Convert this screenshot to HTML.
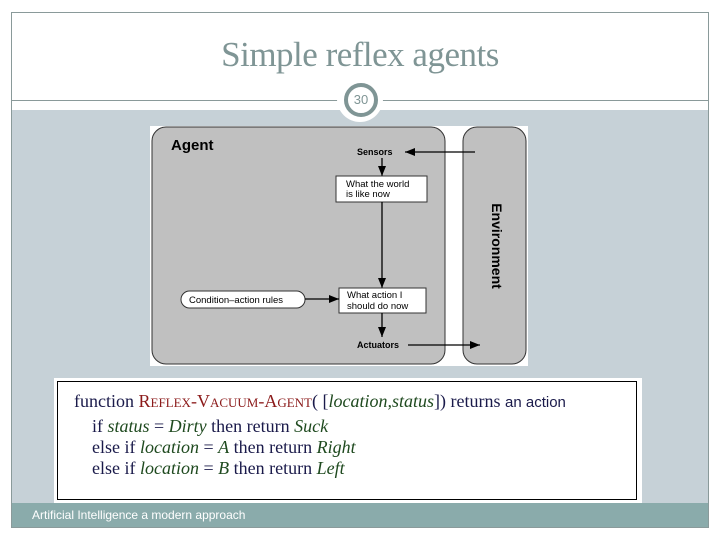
<!DOCTYPE html>
<html><head><style>
body{margin:0;width:720px;height:540px;background:#fff;position:relative;overflow:hidden;font-family:"Liberation Sans",sans-serif}
.a{position:absolute}
</style></head><body>
<div class="a" style="left:11px;top:12px;width:696px;height:514px;border:1px solid #8a9a9a"></div>
<div class="a" style="left:0;width:720px;top:35px;text-align:center;font-family:'Liberation Serif',serif;font-size:35px;color:#7f9595;letter-spacing:-0.5px">Simple reflex agents</div>
<div class="a" style="left:12px;top:100px;width:696px;height:1px;background:#8a9a9a"></div>
<div class="a" style="left:12px;top:110px;width:696px;height:393px;background:#c6d1d7"></div>
<div class="a" style="left:12px;top:503px;width:696px;height:24px;background:#8aabab"></div>
<div class="a" style="left:32px;top:508px;font-size:12px;color:#fff">Artificial Intelligence a modern approach</div>
<div class="a" style="left:337px;top:76px;width:46px;height:46px;border-radius:50%;background:#fff"></div>
<div class="a" style="left:344px;top:83px;width:26px;height:26px;border-radius:50%;border:4px solid #7f9595;background:#fff;text-align:center;line-height:26px;font-size:13px;color:#7f9595">30</div>

<svg class="a" style="left:150px;top:126px" width="378" height="240" viewBox="150 126 378 240">
<defs><marker id="m" markerWidth="10" markerHeight="8" refX="10" refY="4" orient="auto" markerUnits="userSpaceOnUse"><path d="M0,0L10,4L0,8z" fill="#000"/></marker></defs>
<rect x="150" y="126" width="378" height="240" fill="#fff"/>
<rect x="152" y="127" width="293" height="237" rx="14" fill="#c0c0c0" stroke="#333"/>
<rect x="463" y="127" width="63" height="237" rx="14" fill="#c0c0c0" stroke="#333"/>
<text x="171" y="150" font-size="15" font-weight="bold" font-family="Liberation Sans">Agent</text>
<text x="357" y="155" font-size="9" font-weight="bold" font-family="Liberation Sans">Sensors</text>
<line x1="475" y1="152" x2="405" y2="152" stroke="#000" stroke-width="1.3" marker-end="url(#m)"/>
<line x1="382" y1="158" x2="382" y2="176" stroke="#000" stroke-width="1.3" marker-end="url(#m)"/>
<rect x="336" y="176" width="91" height="26" fill="#fff" stroke="#333"/>
<text x="346" y="187" font-size="9.5" font-family="Liberation Sans">What the world</text>
<text x="346" y="197" font-size="9.5" font-family="Liberation Sans">is like now</text>
<line x1="382" y1="202" x2="382" y2="288" stroke="#000" stroke-width="1.3" marker-end="url(#m)"/>
<rect x="339" y="288" width="87" height="25" fill="#fff" stroke="#333"/>
<text x="347" y="298" font-size="9.5" font-family="Liberation Sans">What action I</text>
<text x="347" y="309" font-size="9.5" font-family="Liberation Sans">should do now</text>
<rect x="181" y="291" width="124" height="17" rx="8.5" fill="#fff" stroke="#333"/>
<text x="189" y="303" font-size="9.5" font-family="Liberation Sans">Condition–action rules</text>
<line x1="305" y1="299" x2="339" y2="299" stroke="#000" stroke-width="1.3" marker-end="url(#m)"/>
<line x1="382" y1="313" x2="382" y2="337" stroke="#000" stroke-width="1.3" marker-end="url(#m)"/>
<text x="357" y="348" font-size="9" font-weight="bold" font-family="Liberation Sans">Actuators</text>
<line x1="408" y1="345" x2="480" y2="345" stroke="#000" stroke-width="1.3" marker-end="url(#m)"/>
<text transform="translate(492,246) rotate(90)" text-anchor="middle" font-size="14" font-weight="bold" font-family="Liberation Sans">Environment</text>
</svg>

<div class="a" style="left:54px;top:378px;width:588px;height:125px;background:#fff"></div>
<div class="a" style="left:57px;top:381px;width:578px;height:117px;border:1.5px solid #000"></div>
<div class="a" style="left:74px;top:390px;font-family:'Liberation Serif',serif;font-size:18px;color:#1a1a4a;line-height:22px;white-space:pre">function <span style="color:#8b1a1a;font-variant:small-caps">Reflex-Vacuum-Agent</span>( [<i style="color:#1f4a1f">location,status</i>]) returns <span style="font-family:'Liberation Sans';font-size:15px">an action</span></div>
<div class="a" style="left:92px;top:416px;font-family:'Liberation Serif',serif;font-size:18px;color:#1a1a4a;line-height:21px;white-space:pre">if <i style="color:#1f4a1f">status</i> = <i style="color:#1f4a1f">Dirty</i> then return <i style="color:#1f4a1f">Suck</i>
else if <i style="color:#1f4a1f">location</i> = <i style="color:#1f4a1f">A</i> then return <i style="color:#1f4a1f">Right</i>
else if <i style="color:#1f4a1f">location</i> = <i style="color:#1f4a1f">B</i> then return <i style="color:#1f4a1f">Left</i></div>
</body></html>
